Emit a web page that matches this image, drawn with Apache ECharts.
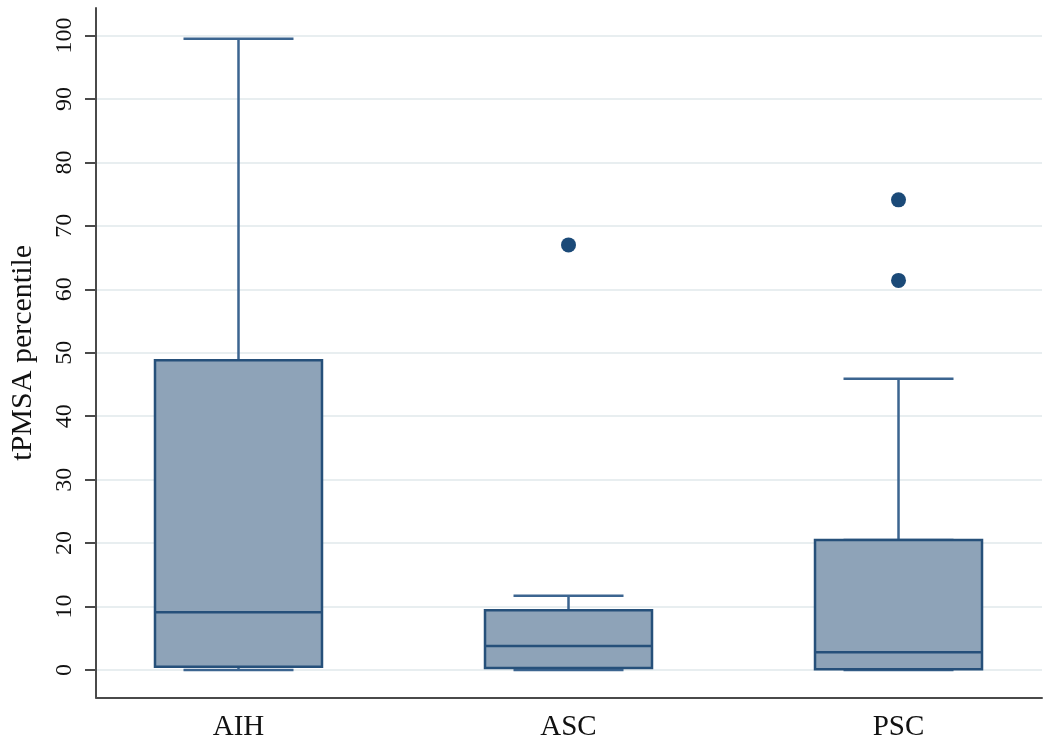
<!DOCTYPE html>
<html>
<head>
<meta charset="utf-8">
<script src="https://cdn.jsdelivr.net/npm/echarts@6/dist/echarts.min.js"></script>
<style>
  html, body { margin: 0; padding: 0; background: #fff; }
  #main { width: 1050px; height: 744px; }
</style>
</head>
<body>
<div id="main"></div>
<script>
// groups and box summary
const groups = ['AIH', 'ASC', 'PSC'];
const lowWhisker = [0, 0, 0];
const q1 = [0.5, 0.3, 0.1];
const median = [9.1, 3.8, 2.8];
const q3 = [48.8, 9.4, 20.5];
const highWhisker = [99.5, 11.7, 45.9];
const outliers = [['ASC', 67.0], ['PSC', 74.1], ['PSC', 61.4]];
const groupPos = [1, 2, 3];

const serif = 'Liberation Serif';
const axisColor = '#4a4a4a';

// box only (zero-length whiskers) and whiskers only (narrower caps, drawn under the box)
const boxData = groups.map((g, i) => [groupPos[i], q1[i], q1[i], median[i], q3[i], q3[i]]);
const whiskerData = groups.map((g, i) => [groupPos[i], lowWhisker[i], q3[i], q3[i], q3[i], highWhisker[i]]);
const outlierData = outliers.map(o => [groupPos[groups.indexOf(o[0])], o[1]]);

const option = {
  animation: false,
  grid: [
    { left: 96, right: 8, top: 8, bottom: 46.5 },   // frame lines
    { left: 96, right: 8, top: 35.5, bottom: 74 }   // data, ticks, gridlines
  ],
  xAxis: [
    {
      gridIndex: 0, type: 'value', min: 0, max: 1,
      axisLine: { show: true, onZero: false, lineStyle: { color: axisColor, width: 2 } },
      axisTick: { show: false }, axisLabel: { show: false }, splitLine: { show: false }
    },
    {
      gridIndex: 1, type: 'value', min: 0.5682, max: 3.4348,
      axisLine: { show: false }, axisTick: { show: false }, splitLine: { show: false },
      axisLabel: {
        customValues: groupPos,
        formatter: v => groups[Math.round(v) - 1],
        fontFamily: serif, fontSize: 29, color: '#111', margin: 43
      }
    },
    { gridIndex: 1, type: 'value', min: 0.5682, max: 3.4348, show: false }
  ],
  yAxis: [
    {
      gridIndex: 0, type: 'value', min: -4.33, max: 104.33,
      axisLine: { show: true, onZero: false, lineStyle: { color: axisColor, width: 2 } },
      axisTick: { show: false }, axisLabel: { show: false }, splitLine: { show: false }
    },
    {
      gridIndex: 1, type: 'value', min: 0, max: 100, interval: 10,
      name: 'tPMSA percentile', nameLocation: 'middle', nameGap: 58,
      nameTextStyle: { fontFamily: serif, fontSize: 30, color: '#111' },
      axisLine: { show: false },
      axisTick: { show: true, length: 11, lineStyle: { color: axisColor, width: 2 } },
      axisLabel: { rotate: 90, margin: 19, color: '#111', fontFamily: serif, fontSize: 24 },
      splitLine: { show: true, lineStyle: { color: '#e8eef0', width: 2 } }
    }
  ],
  series: [
    {
      name: 'whiskers', type: 'boxplot', xAxisIndex: 2, yAxisIndex: 1, z: 2,
      boxWidth: [110, 110],
      itemStyle: { color: '#8ea3b8', borderColor: '#3c6590', borderWidth: 2.5 },
      emphasis: { disabled: true },
      data: whiskerData
    },
    {
      name: 'box', type: 'boxplot', xAxisIndex: 1, yAxisIndex: 1, z: 3,
      boxWidth: [167, 167],
      itemStyle: { color: '#8ea3b8', borderColor: '#26507a', borderWidth: 2.5 },
      emphasis: { disabled: true },
      data: boxData
    },
    {
      name: 'outliers', type: 'scatter', xAxisIndex: 1, yAxisIndex: 1, z: 4,
      symbolSize: 15,
      itemStyle: { color: '#1b4a78', opacity: 1 },
      data: outlierData
    }
  ]
};

const myChart = echarts.init(document.getElementById('main'));
myChart.setOption(option);
</script>
</body>
</html>
